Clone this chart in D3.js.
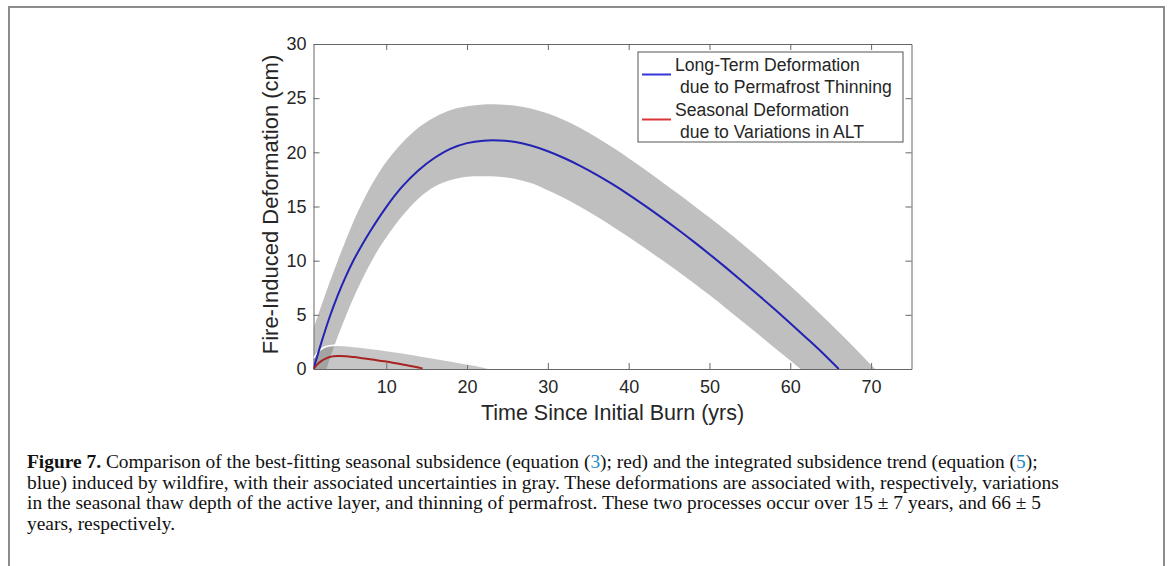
<!DOCTYPE html>
<html>
<head>
<meta charset="utf-8">
<title>Fire-Induced Deformation</title>
<script src="https://d3js.org/d3.v7.min.js"></script>
<style>
  html, body { margin: 0; padding: 0; background: #fff; }
  svg text { font-family: "Liberation Sans", Arial, sans-serif; }
  .caption text { font-family: "Liberation Serif", "Times New Roman", serif; }
</style>
</head>
<body>
<div id="chart"></div>
<script>
// ---- data ----
// long-term deformation (blue), best fit
var longT    = [1, 2, 3, 4, 5, 6, 7, 8, 10, 12, 14, 16, 18, 20, 22, 24, 26, 28, 30, 32, 34, 36, 38, 40, 42, 44, 46, 48, 50, 52, 54, 56, 58, 60, 62, 64, 66];
var longMean = [0, 2.5, 4.8, 6.8, 8.55, 10.1, 11.45, 12.7, 14.95, 16.85, 18.35, 19.5, 20.35, 20.85, 21.08, 21.1, 20.95, 20.6, 20.1, 19.48, 18.76, 17.95, 17.06, 16.1, 15.08, 14.02, 12.92, 11.78, 10.6, 9.38, 8.13, 6.86, 5.56, 4.23, 2.87, 1.48, 0];
// long-term uncertainty band (gray); values below 0 are cut by the axes
var longBandT  = [1, 2, 3, 4, 5, 6, 7, 8, 9, 10, 12, 14, 16, 18, 20, 22, 24, 26, 28, 30, 32, 34, 36, 38, 40, 42, 44, 46, 48, 50, 52, 54, 56, 58, 60, 62, 64, 66, 68, 70, 71];
var longUpper  = [3.7, 5.9, 8.0, 10.0, 11.9, 13.7, 15.3, 16.75, 18.0, 19.1, 20.9, 22.3, 23.25, 23.9, 24.25, 24.42, 24.42, 24.3, 24.02, 23.58, 22.98, 22.24, 21.4, 20.46, 19.46, 18.42, 17.34, 16.24, 15.12, 13.98, 12.8, 11.58, 10.32, 9.02, 7.68, 6.3, 4.88, 3.42, 1.92, 0.38, -0.4];
var longLower  = [-3.9, -1.4, 0.9, 3.0, 4.9, 6.65, 8.25, 9.7, 11.0, 12.15, 14.15, 15.75, 16.85, 17.45, 17.75, 17.8, 17.75, 17.55, 17.15, 16.5, 15.78, 14.98, 14.1, 13.16, 12.18, 11.16, 10.12, 9.06, 7.96, 6.82, 5.64, 4.44, 3.22, 1.98, 0.78, -0.46, -1.74, -3.04, -4.36, -5.7, -6.4];

// seasonal deformation (red), best fit
var seasT    = [1, 1.5, 2, 2.5, 3, 3.5, 4, 5, 6, 7, 8, 9, 10, 11, 12, 13, 14, 14.5];
var seasMean = [0, 0.45, 0.75, 0.95, 1.1, 1.17, 1.2, 1.18, 1.1, 1.0, 0.9, 0.79, 0.69, 0.56, 0.42, 0.28, 0.13, 0.05];
// seasonal uncertainty band (gray)
var seasBandT = [1, 1.5, 2, 2.5, 3, 4, 5, 6, 8, 10, 12, 14, 16, 18, 20, 22, 23];
var seasUpper = [1.0, 1.5, 1.85, 2.05, 2.15, 2.2, 2.15, 2.08, 1.92, 1.72, 1.5, 1.25, 1.0, 0.74, 0.47, 0.18, 0];
var seasLower = [0, 0, 0, 0, 0, 0, 0, 0, 0, 0, 0, 0, 0, 0, 0, 0, 0];

var xTicks = [10, 20, 30, 40, 50, 60, 70];
var yTicks = [0, 5, 10, 15, 20, 25, 30];

var legendLabels = [
  ["Long-Term Deformation", " due to Permafrost Thinning"],
  ["Seasonal Deformation", " due to Variations in ALT"]
];

var captionLines = [
  [{t: "Figure 7.", b: true}, {t: " Comparison of the best-fitting seasonal subsidence (equation ("}, {t: "3", c: true}, {t: "); red) and the integrated subsidence trend (equation ("}, {t: "5", c: true}, {t: ");"}],
  [{t: "blue) induced by wildfire, with their associated uncertainties in gray. These deformations are associated with, respectively, variations"}],
  [{t: "in the seasonal thaw depth of the active layer, and thinning of permafrost. These two processes occur over 15 \u00b1 7 years, and 66 \u00b1 5"}],
  [{t: "years, respectively."}]
];

// ---- layout ----
var width = 1168, height = 566;
var plot = {left: 313.5, right: 911.5, top: 44, bottom: 369};
var axisColor = "#666";
var textColor = "#262626";

var svg = d3.select("#chart").append("svg")
  .attr("width", width)
  .attr("height", height);

// figure frame (open at the bottom)
svg.append("path")
  .attr("d", "M9,566 V7 H1164 V566")
  .attr("fill", "none")
  .attr("stroke", "#8c8c8c")
  .attr("stroke-width", 2);

var x = d3.scaleLinear().domain([1, 75]).range([plot.left, plot.right]);
var y = d3.scaleLinear().domain([0, 30]).range([plot.bottom, plot.top]);

// axes (drawn under the data, like MATLAB's default layer)
var gx = svg.append("g")
  .attr("transform", "translate(0," + plot.bottom + ")")
  .call(d3.axisBottom(x).tickValues(xTicks).tickSizeInner(-6).tickSizeOuter(0).tickPadding(11.5));
var gxt = svg.append("g")
  .attr("transform", "translate(0," + plot.top + ")")
  .call(d3.axisTop(x).tickValues(xTicks).tickSizeInner(-6).tickSizeOuter(0).tickFormat(""));
var gy = svg.append("g")
  .attr("transform", "translate(" + plot.left + ",0)")
  .call(d3.axisLeft(y).tickValues(yTicks).tickSizeInner(-6).tickSizeOuter(0).tickPadding(7));
var gyr = svg.append("g")
  .attr("transform", "translate(" + plot.right + ",0)")
  .call(d3.axisRight(y).tickValues(yTicks).tickSizeInner(-6).tickSizeOuter(0).tickFormat(""));

[gx, gxt, gy, gyr].forEach(function(g) {
  g.selectAll(".domain, line").attr("stroke", axisColor).attr("stroke-width", 1);
  g.selectAll("text")
    .attr("fill", textColor)
    .style("font-size", "18px")
    .style("font-family", "Liberation Sans, Arial, sans-serif");
});

// axis labels
svg.append("text")
  .attr("x", (plot.left + plot.right) / 2)
  .attr("y", 420)
  .attr("text-anchor", "middle")
  .attr("fill", textColor)
  .style("font-size", "21.5px")
  .text("Time Since Initial Burn (yrs)");

svg.append("text")
  .attr("transform", "translate(278," + ((plot.top + plot.bottom) / 2 - 2) + ") rotate(-90)")
  .attr("text-anchor", "middle")
  .attr("fill", textColor)
  .style("font-size", "22px")
  .text("Fire-Induced Deformation (cm)");

// clip to the axes box
svg.append("clipPath").attr("id", "plotclip")
  .append("rect")
  .attr("x", plot.left).attr("y", plot.top)
  .attr("width", plot.right - plot.left).attr("height", plot.bottom - plot.top);

var g = svg.append("g").attr("clip-path", "url(#plotclip)");

function bandData(ts, lo, hi) {
  return ts.map(function(t, i) { return {t: t, lo: lo[i], hi: hi[i]}; });
}
function lineData(ts, v) {
  return ts.map(function(t, i) { return {t: t, v: v[i]}; });
}

var curve = d3.curveCatmullRom.alpha(0.5);

var area = d3.area()
  .x(function(d) { return x(d.t); })
  .y0(function(d) { return y(d.lo); })
  .y1(function(d) { return y(d.hi); })
  .curve(curve);

var upperEdge = d3.line()
  .x(function(d) { return x(d.t); })
  .y(function(d) { return y(d.hi); })
  .curve(curve);

var line = d3.line()
  .x(function(d) { return x(d.t); })
  .y(function(d) { return y(d.v); })
  .curve(curve);

// uncertainty bands, semi-transparent so the overlap shows darker
var longBand = bandData(longBandT, longLower, longUpper);
var seasBand = bandData(seasBandT, seasLower, seasUpper);

g.append("path")
  .datum(longBand)
  .attr("d", area)
  .attr("fill", "#808080")
  .attr("fill-opacity", 0.5);

g.append("path")
  .datum(seasBand)
  .attr("d", area)
  .attr("fill", "#808080")
  .attr("fill-opacity", 0.45);

// the seasonal patch has a white edge
g.append("path")
  .datum(seasBand)
  .attr("d", upperEdge)
  .attr("fill", "none")
  .attr("stroke", "#fff")
  .attr("stroke-width", 1.6);

// best-fit curves
g.append("path")
  .datum(lineData(longT, longMean))
  .attr("d", line)
  .attr("fill", "none")
  .attr("stroke", "#2222b4")
  .attr("stroke-width", 2);

g.append("path")
  .datum(lineData(seasT, seasMean))
  .attr("d", line)
  .attr("fill", "none")
  .attr("stroke", "#a82222")
  .attr("stroke-width", 2);

// legend
var legendColors = ["#3434d8", "#dc3434"];
var lg = svg.append("g").attr("transform", "translate(638,52)");
lg.append("rect")
  .attr("width", 265).attr("height", 90)
  .attr("fill", "#fff")
  .attr("stroke", "#555")
  .attr("stroke-width", 1);

legendLabels.forEach(function(lines, i) {
  var top = i * 45;
  lg.append("line")
    .attr("x1", 4).attr("x2", 33)
    .attr("y1", top + 22.5).attr("y2", top + 22.5)
    .attr("stroke", legendColors[i])
    .attr("stroke-width", 2);
  lines.forEach(function(s, j) {
    lg.append("text")
      .attr("x", 37)
      .attr("y", top + 18.5 + j * 22)
      .attr("fill", textColor)
      .style("font-size", "17.6px")
      .style("white-space", "pre")
      .text(s);
  });
});

// caption
var cap = svg.append("g").attr("class", "caption");
var capX = 27;
var capBase = [468, 488.5, 509, 529.5];
var capSize = 18;
var capTexts = captionLines.map(function(parts, i) {
  var t = cap.append("text")
    .attr("x", capX)
    .attr("y", capBase[i])
    .attr("fill", "#111")
    .style("font-size", capSize + "px");
  parts.forEach(function(p) {
    var ts = t.append("tspan").text(p.t);
    if (p.b) ts.attr("font-weight", "bold");
    if (p.c) ts.attr("fill", "#1f8ac9");
  });
  return t;
});
// scale the caption so that line 2 spans to x = 1060
var w2 = capTexts[1].node().getComputedTextLength();
var fs = capSize * (1060 - capX) / w2;
capTexts.forEach(function(t) { t.style("font-size", fs + "px"); });
</script>
</body>
</html>
